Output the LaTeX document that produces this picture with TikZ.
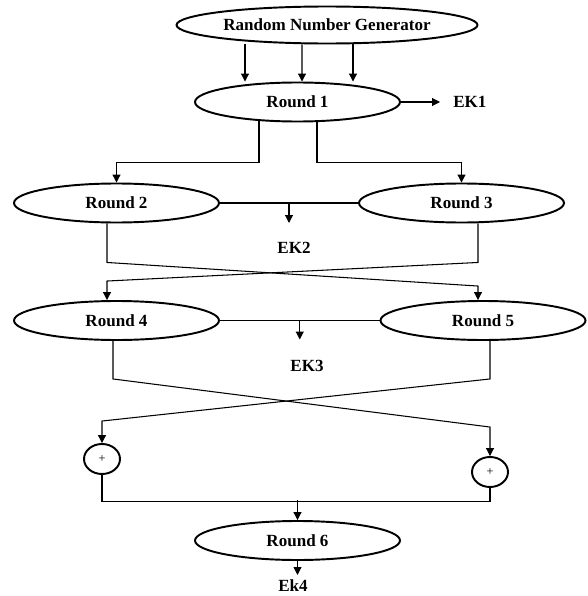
\documentclass[tikz,border=0pt]{standalone}
\usepackage{fontspec}
\setmainfont{Liberation Serif}
\usetikzlibrary{arrows.meta,calc,shapes.geometric}

\begin{document}
\begin{tikzpicture}[
  >={Triangle[length=4.5pt,width=4.5pt]},
  every node/.style={font=\fontsize{9.7}{11}\selectfont\bfseries},
  round/.style={ellipse,draw,line width=1.1pt,inner sep=0pt,
    minimum width=4.1cm,minimum height=0.78cm},
  adder/.style={ellipse,draw,line width=1.1pt,inner sep=0pt,
    minimum width=0.72cm,minimum height=0.6cm,font=\fontsize{7}{8}\selectfont},
  link/.style={line width=0.6pt}]

\useasboundingbox (0,0) rectangle (11.74,-11.92);

% The rounds.
\node[round,minimum width=6.02cm,minimum height=0.74cm] (rng) at (6.54,-0.5) {Random Number Generator};
\node[round] (r1) at (5.95,-2.04) {Round 1};
\node[round] (r2) at (2.33,-4.06) {Round 2};
\node[round] (r3) at (9.23,-4.06) {Round 3};
\node[round] (r4) at (2.33,-6.41) {Round 4};
\node[round] (r5) at (9.66,-6.41) {Round 5};
\node[round] (r6) at (5.95,-10.81) {Round 6};

% The two adders.
\node[adder] (p1) at (2.04,-9.18) {+};
\node[adder] (p2) at (9.8,-9.44) {+};

% The keys.
\node[anchor=west,inner sep=0pt] (ek1) at (9.06,-2.04) {EK1};
\node (ek2) at (5.88,-4.96) {EK2};
\node (ek3) at (6.14,-7.32) {EK3};
\node (ek4) at (5.86,-11.72) {Ek4};

% Generator feeds round 1.
\foreach \a/\b in {-1.64/-1.05,-0.5/0.09,0.52/1.11}
  \draw[link,->] ([xshift=\a cm]rng.south) -- ([xshift=\b cm]r1.north);
\draw[link,->] (r1.east) -- ([xshift=-0.26cm]ek1.west);

% Round 1 splits.
\draw[link,->] ([xshift=-0.77cm,yshift=0.05cm]r1.south) -- ++(0,-0.85) -| (r2.north);
\draw[link,->] ([xshift=0.39cm,yshift=0.02cm]r1.south) -- ++(0,-0.82) -| (r3.north);

% Rounds 2 and 3 give EK2.
\draw[link] (r2.east) -- (r3.west);
\draw[link,->] ($(r2.east)!0.5!(r3.west)$) -- ++(0,-0.4);

% Cross over to rounds 4 and 5.
\draw[link,->] ([xshift=-0.19cm]r2.south) -- ++(0,-0.78)
  -- ($([xshift=-0.1cm]r5.north)+(0,0.28)$) -- ([xshift=-0.1cm]r5.north);
\draw[link,->] ([xshift=0.33cm]r3.south) -- ++(0,-0.78)
  -- ($([xshift=-0.19cm]r4.north)+(0,0.38)$) -- ([xshift=-0.19cm]r4.north);

% Rounds 4 and 5 give EK3.
\draw[link] (r4.east) -- (r5.west);
\draw[link,->] ($(r4.east)!0.5!(r5.west)$) -- ++(0,-0.38);

% Cross over to the adders.
\draw[link,->] ([xshift=-0.07cm]r4.south) -- ++(0,-0.76)
  -- ($(p2.north)+(0,0.58)$) -- (p2.north);
\draw[link,->] ([xshift=0.14cm]r5.south) -- ++(0,-0.76)
  -- ($(p1.north)+(0,0.44)$) -- (p1.north);

% Adders join into round 6.
\draw[link] (p1.south) -- ++(0,-0.54) -| (p2.south);
\draw[link,->] ([yshift=0.4cm]r6.north) -- (r6.north);
\draw[link,->] (r6.south) -- ++(0,-0.28);

\end{tikzpicture}
\end{document}
